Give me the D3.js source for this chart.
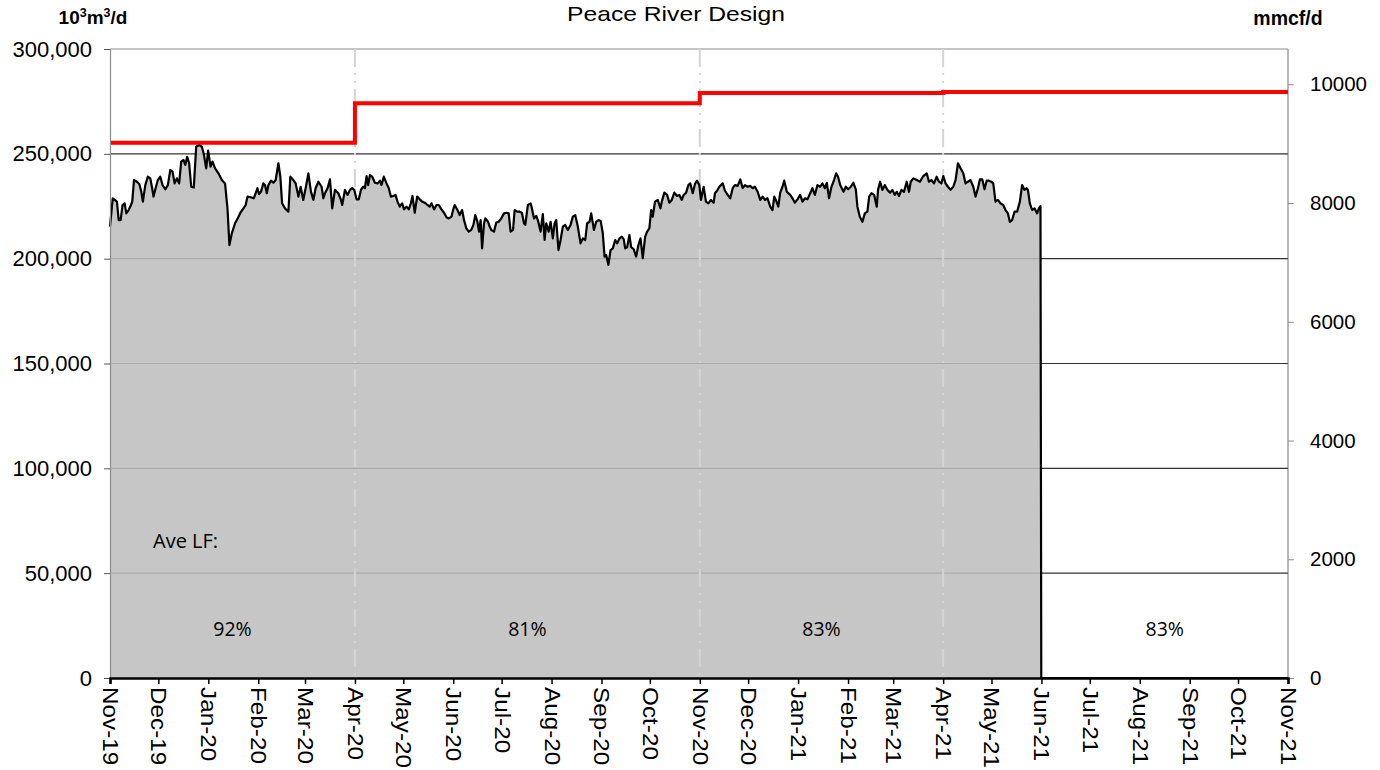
<!DOCTYPE html>
<html>
<head>
<meta charset="utf-8">
<title>Peace River Design</title>
<script src="https://d3js.org/d3.v7.min.js"></script>
<style>
  body { margin: 0; background: #fff; }
  svg text { font-family: "Liberation Sans", Arial, sans-serif; }
</style>
</head>
<body>
<div id="chart"></div>
<script>
// daily flow readings, day offset from 1 Nov 2019 and 10^3 m3/d (thousands)
var flowDay = [
  0,1.7,4.3,5.4,6.6,7.8,9.1,10.1,11.6,13.0,
  13.8,14.9,16.7,18.2,19.4,20.4,21.9,23.5,25.0,26.0,
  27.0,28.3,29.7,31.2,32.6,34.3,35.9,37.4,38.8,40.1,
  41.5,42.9,44.2,45.6,46.7,47.9,49.1,50.4,52.0,53.5,
  55.3,57.0,58.2,59.7,60.9,62.4,63.6,65.2,67.3,69.4,
  71.4,72.9,74.1,75.6,77.6,79.3,80.9,82.8,84.2,85.3,
  87.3,89.2,90.4,91.5,92.5,93.7,95.2,96.2,97.3,98.3,
  99.9,101.4,102.8,104.5,105.7,106.8,108.6,110.7,111.9,113.8,
  115.2,116.9,118.3,119.9,121.4,123.1,124.7,126.2,127.6,129.3,
  131.3,132.4,133.4,135.0,136.5,137.9,139.6,141.7,143.3,144.1,
  145.8,147.4,148.9,150.3,151.6,153.0,154.4,155.7,157.1,158.2,
  159.2,160.2,161.3,162.7,164.4,166.0,167.5,168.5,169.9,171.6,
  173.0,174.3,175.7,177.2,178.4,179.8,181.3,182.5,184.0,185.4,
  186.7,187.7,189.1,190.6,192.2,193.7,195.3,197.0,198.4,199.5,
  201.1,202.6,204.0,205.7,207.3,208.8,210.2,211.9,212.9,213.9,
  215.6,217.0,218.5,219.7,221.1,222.6,224.2,225.5,226.7,228.0,
  229.0,230.0,230.9,232.1,232.9,234.6,235.6,236.6,238.3,239.7,
  241.2,242.8,244.5,246.1,247.4,248.6,250.1,251.1,252.7,254.2,
  255.6,256.9,257.7,259.3,261.0,261.8,263.1,264.5,265.5,267.2,
  268.6,269.7,270.7,272.2,273.4,274.8,275.9,276.9,278.3,279.6,
  281.0,282.5,284.1,285.8,287.2,288.7,290.3,292.0,293.4,294.9,
  296.1,297.6,298.6,300.3,301.7,303.1,304.5,305.8,306.9,307.9,
  309.3,310.6,312.0,313.5,314.7,316.2,317.6,318.8,319.7,320.9,
  322.3,323.4,325.0,326.5,327.9,329.2,330.6,332.1,333.3,334.7,
  335.8,336.8,338.2,339.9,341.6,342.4,344.0,345.7,347.1,348.6,
  350.2,351.9,353.3,354.8,356.0,357.5,358.9,360.1,361.6,363.0,
  364.3,365.7,366.7,368.4,369.8,371.3,372.9,374.6,375.4,376.7,
  378.1,380.2,381.6,383.3,384.9,386.4,387.8,389.5,391.1,392.6,
  394.0,395.7,397.3,398.8,400.2,401.9,403.5,405.0,406.4,408.0,
  409.7,411.1,412.2,413.2,414.7,415.9,417.3,418.4,420.0,422.1,
  423.5,425.0,426.6,428.3,429.7,431.2,432.8,434.5,435.9,437.4,
  439.0,440.7,442.1,443.6,444.8,446.2,447.7,449.3,450.6,451.8,
  453.1,455.2,456.6,458.0,459.7,461.3,462.8,463.8,465.3,466.9,
  468.4,470.0,471.1,472.5,474.2,475.8,476.6,477.9,479.3,480.8,
  482.4,484.1,485.5,487.0,488.2,489.6,491.1,492.7,494.4,495.8,
  496.9,498.5,500.6,502.6,504.7,506.8,508.2,509.7,511.3,513.0,
  514.4,515.9,517.1,518.5,520.0,521.6,523.3,524.7,526.2,527.8,
  529.5,530.9,532.4,534.0,535.7,537.1,538.6,539.8,541.3,542.7,
  544.0,545.4,546.8,548.1,549.5,551.0,552.6,554.3,555.7,557.2,
  558.4,559.8,561.3,562.9,564.6,566.0,567.5,568.7,569.6,570.8,
  572.2,573.7,575.3,576.4,577.4,577.9,731
];
var flowK = [
  215.3,228.8,227.2,218.4,218.4,225.6,226.4,221.6,223.2,225.6,
  227.2,237.5,236.7,235.6,232.0,227.2,235.1,239.1,238.3,234.3,
  229.6,233.6,237.5,239.1,235.1,233.1,235.1,242.3,241.5,235.9,
  238.3,235.9,246.3,247.1,244.7,248.6,245.5,234.3,234.0,253.4,
  254.2,253.4,249.9,243.1,251.5,243.9,246.3,243.1,240.7,237.5,
  235.9,224.0,206.5,212.1,216.9,219.3,221.9,224.0,225.6,229.6,
  229.3,228.8,231.2,233.6,230.8,232.0,235.9,235.1,231.2,235.1,
  237.2,236.2,237.5,245.5,239.1,226.4,224.0,222.4,239.1,237.5,
  235.9,229.6,234.3,228.0,233.6,240.7,232.0,228.0,233.6,236.7,
  234.3,228.8,231.2,233.6,237.8,224.0,232.8,231.2,228.0,225.6,
  232.8,230.4,232.8,233.6,232.8,228.3,228.3,232.8,234.3,233.6,
  239.4,235.1,239.9,239.1,236.2,235.9,237.2,235.1,239.1,235.9,
  233.6,229.6,229.9,230.4,227.2,224.8,226.4,223.5,224.8,223.5,
  226.4,229.9,221.9,229.6,228.3,227.2,226.7,225.6,224.8,226.4,
  223.5,225.6,225.6,223.5,221.9,219.7,219.2,220.0,223.2,225.6,
  223.2,220.8,223.2,218.4,214.5,212.9,213.7,216.1,220.8,217.6,
  212.9,218.4,204.9,216.9,219.2,217.6,215.3,213.7,212.9,217.2,
  217.6,219.2,221.6,221.9,221.6,212.9,213.7,223.2,222.4,222.4,
  221.9,216.9,216.1,225.6,226.4,224.0,219.2,220.4,218.4,212.9,
  221.3,208.9,216.9,212.9,217.6,209.7,216.9,218.4,204.1,208.9,
  215.3,216.1,213.7,216.1,220.0,220.8,215.3,207.3,209.7,208.9,
  216.9,217.6,221.6,213.7,217.6,218.4,218.0,212.1,201.0,201.7,
  197.0,204.1,204.9,208.9,207.3,209.7,210.5,209.2,204.9,205.4,
  211.3,205.5,204.5,201.0,206.5,209.7,200.2,210.5,212.9,214.5,
  223.2,220.0,227.2,228.0,224.0,227.2,231.5,230.4,226.7,228.0,
  231.5,229.9,230.4,228.0,230.4,231.5,235.1,235.9,231.2,235.6,
  237.2,235.1,228.0,234.3,227.2,226.4,228.0,226.7,231.2,232.4,
  234.3,235.9,232.4,230.4,228.8,233.6,235.1,234.7,237.8,233.6,
  235.1,234.3,234.7,233.6,234.3,231.9,228.0,229.6,228.0,228.8,
  224.8,223.2,229.6,228.0,224.8,231.5,234.3,237.2,231.9,230.4,
  228.8,226.7,228.3,230.4,227.2,228.8,228.3,231.2,233.6,230.4,
  235.1,234.3,235.9,233.6,236.2,228.8,234.3,237.5,240.7,239.1,
  235.1,231.9,234.3,233.1,234.3,236.2,233.1,224.8,220.0,217.6,
  221.6,222.4,229.6,231.2,230.4,224.8,232.8,236.7,232.8,235.1,
  232.8,231.5,232.8,230.4,231.9,229.9,232.8,231.9,236.7,231.9,
  236.7,238.3,237.5,236.7,239.4,240.7,236.7,237.5,235.9,239.1,
  236.7,235.9,239.4,235.9,234.3,232.8,234.3,237.5,245.5,243.1,
  240.7,235.9,236.7,237.5,234.3,229.6,233.6,237.8,237.8,233.1,
  237.2,237.2,236.7,235.9,227.2,228.0,226.4,225.6,223.2,221.6,
  217.6,218.4,222.4,222.4,227.2,235.1,232.8,233.6,232.8,226.4,
  223.2,224.0,221.6,224.0,225.1,0,0
];

// design capacity steps (thousands 10^3 m3/d)
var capDates = ["2019-11-01", "2020-04-01", "2020-11-01", "2021-04-01", "2021-11-01"];
var capK = [255.3, 274.1, 279.0, 279.5, 279.5];

// season dividers
var seasonDates = ["2020-04-01", "2020-11-01", "2021-04-01"];

// average load factor labels
var lfText = ["92%", "81%", "83%", "83%"];
var lfFrom = ["2019-11-01", "2020-04-01", "2020-11-01", "2021-06-01"];
var lfTo = ["2020-04-01", "2020-11-01", "2021-04-01", "2021-11-01"];

var leftTicks = [0, 50, 100, 150, 200, 250, 300];
var rightTicks = [0, 2000, 4000, 6000, 8000, 10000];
var mcfPerM3 = 35.3147;

var W = 1380, H = 770;
var plotL = 110, plotR = 1288, plotT = 49, plotB = 678;
var parse = d3.timeParse("%Y-%m-%d");
var start = parse("2019-11-01");

var svg = d3.select("#chart").append("svg")
  .attr("width", W).attr("height", H);

var x = d3.scaleTime().domain([start, parse("2021-11-01")]).range([plotL, plotR]);
var y = d3.scaleLinear().domain([0, 300]).range([plotB, plotT]);
var yR = d3.scaleLinear().domain([0, 300 * mcfPerM3]).range([plotB, plotT]);

var flowData = flowDay.map(function(d, i) {
  return { date: new Date(start.getTime() + d * 864e5), v: flowK[i] };
});

// plot frame
svg.append("line").attr("x1", plotL).attr("x2", plotR).attr("y1", plotT).attr("y2", plotT)
  .attr("stroke", "#8c8c8c").attr("stroke-width", 1.2);
svg.append("line").attr("x1", plotR).attr("x2", plotR).attr("y1", plotT).attr("y2", plotB)
  .attr("stroke", "#8c8c8c").attr("stroke-width", 1.2);

// horizontal gridlines
svg.append("g").selectAll("line")
  .data(leftTicks.filter(function(t) { return t > 0 && t < 300; }))
  .enter().append("line")
  .attr("x1", plotL).attr("x2", plotR)
  .attr("y1", function(d) { return y(d); }).attr("y2", function(d) { return y(d); })
  .attr("stroke", "#333").attr("stroke-width", 1.2);

// gray filled flow area
var area = d3.area()
  .x(function(d) { return x(d.date); })
  .y0(y(0))
  .y1(function(d) { return y(d.v); });
svg.append("path").datum(flowData)
  .attr("d", area)
  .attr("fill", "#bebebe").attr("fill-opacity", 0.87);

// season dividers
svg.append("g").selectAll("line")
  .data(seasonDates)
  .enter().append("line")
  .attr("x1", function(d) { return x(parse(d)); })
  .attr("x2", function(d) { return x(parse(d)); })
  .attr("y1", plotT).attr("y2", plotB)
  .attr("stroke", "#d4d4d4").attr("stroke-width", 2)
  .attr("stroke-dasharray", "18,6,2,6,2,6");

// flow line
var line = d3.line()
  .x(function(d) { return x(d.date); })
  .y(function(d) { return y(d.v); });
svg.append("path").datum(flowData)
  .attr("d", line)
  .attr("fill", "none").attr("stroke", "#000").attr("stroke-width", 2.2)
  .attr("stroke-linejoin", "round");

// capacity step line
var capData = capDates.map(function(d, i) { return { date: parse(d), v: capK[i] }; });
svg.append("path").datum(capData)
  .attr("d", d3.line().curve(d3.curveStepAfter)
    .x(function(d) { return x(d.date); })
    .y(function(d) { return y(d.v); }))
  .attr("fill", "none").attr("stroke", "#ff0000").attr("stroke-width", 4);

// left axis
var yAxis = d3.axisLeft(y).tickValues(leftTicks).tickSize(6).tickPadding(12)
  .tickFormat(function(d) { return d3.format(",")(d * 1000); });
var gl = svg.append("g").attr("transform", "translate(" + plotL + ",0)").call(yAxis);
gl.select(".domain").attr("stroke", "#8c8c8c").attr("stroke-width", 1.2);
gl.selectAll(".tick line").attr("stroke", "#555");
gl.selectAll("text").attr("font-size", 22).attr("fill", "#000")
  .attr("font-family", "Liberation Sans, Arial, sans-serif");

// right axis
var yAxisR = d3.axisRight(yR).tickValues(rightTicks).tickSize(6).tickPadding(16)
  .tickFormat(d3.format("d"));
var gr = svg.append("g").attr("transform", "translate(" + plotR + ",0)").call(yAxisR);
gr.select(".domain").remove();
gr.selectAll(".tick line").attr("stroke", "#8c8c8c");
gr.selectAll("text").attr("font-size", 20.5).attr("fill", "#000")
  .attr("font-family", "Liberation Sans, Arial, sans-serif");

// bottom axis
var months = d3.timeMonth.range(start, d3.timeDay.offset(parse("2021-11-01"), 1));
var xAxis = d3.axisBottom(x).tickValues(months).tickSize(6).tickFormat(d3.timeFormat("%b-%y"));
var gx = svg.append("g").attr("transform", "translate(0," + plotB + ")").call(xAxis);
gx.select(".domain").attr("stroke", "#000").attr("stroke-width", 2.5);
gx.selectAll(".tick line").attr("stroke", "#000").attr("stroke-width", 1.5);
gx.selectAll("text")
  .attr("font-size", 21.5).attr("fill", "#000")
  .attr("font-family", "Liberation Sans, Arial, sans-serif")
  .attr("text-anchor", "start")
  .attr("x", 0).attr("y", 0).attr("dy", "0.35em")
  .attr("transform", "translate(0,9) rotate(90) scale(1.13,1)");

// load factor labels
svg.append("text").attr("x", 153).attr("y", 548)
  .style("font-family", "'Open Sans', sans-serif").attr("font-size", 20)
  .text("Ave LF:");
svg.append("g").selectAll("text")
  .data(lfText)
  .enter().append("text")
  .attr("x", function(d, i) { return (x(parse(lfFrom[i])) + x(parse(lfTo[i]))) / 2; })
  .attr("y", 636)
  .attr("text-anchor", "middle")
  .style("font-family", "'Open Sans', sans-serif").attr("font-size", 19.5)
  .text(function(d) { return d; });

// titles
svg.append("text").attr("x", 676).attr("y", 21).attr("text-anchor", "middle")
  .attr("font-size", 21).attr("textLength", 218).attr("lengthAdjust", "spacingAndGlyphs")
  .text("Peace River Design");
var ul = svg.append("text").attr("x", 93).attr("y", 24).attr("text-anchor", "middle")
  .attr("font-size", 19).attr("font-weight", "bold");
ul.append("tspan").text("10");
ul.append("tspan").attr("font-size", 12.5).attr("dy", -7).text("3");
ul.append("tspan").attr("dy", 7).text("m");
ul.append("tspan").attr("font-size", 12.5).attr("dy", -7).text("3");
ul.append("tspan").attr("dy", 7).text("/d");
svg.append("text").attr("x", 1288).attr("y", 25).attr("text-anchor", "middle")
  .attr("font-size", 19.5).attr("font-weight", "bold").text("mmcf/d");
</script>
</body>
</html>
